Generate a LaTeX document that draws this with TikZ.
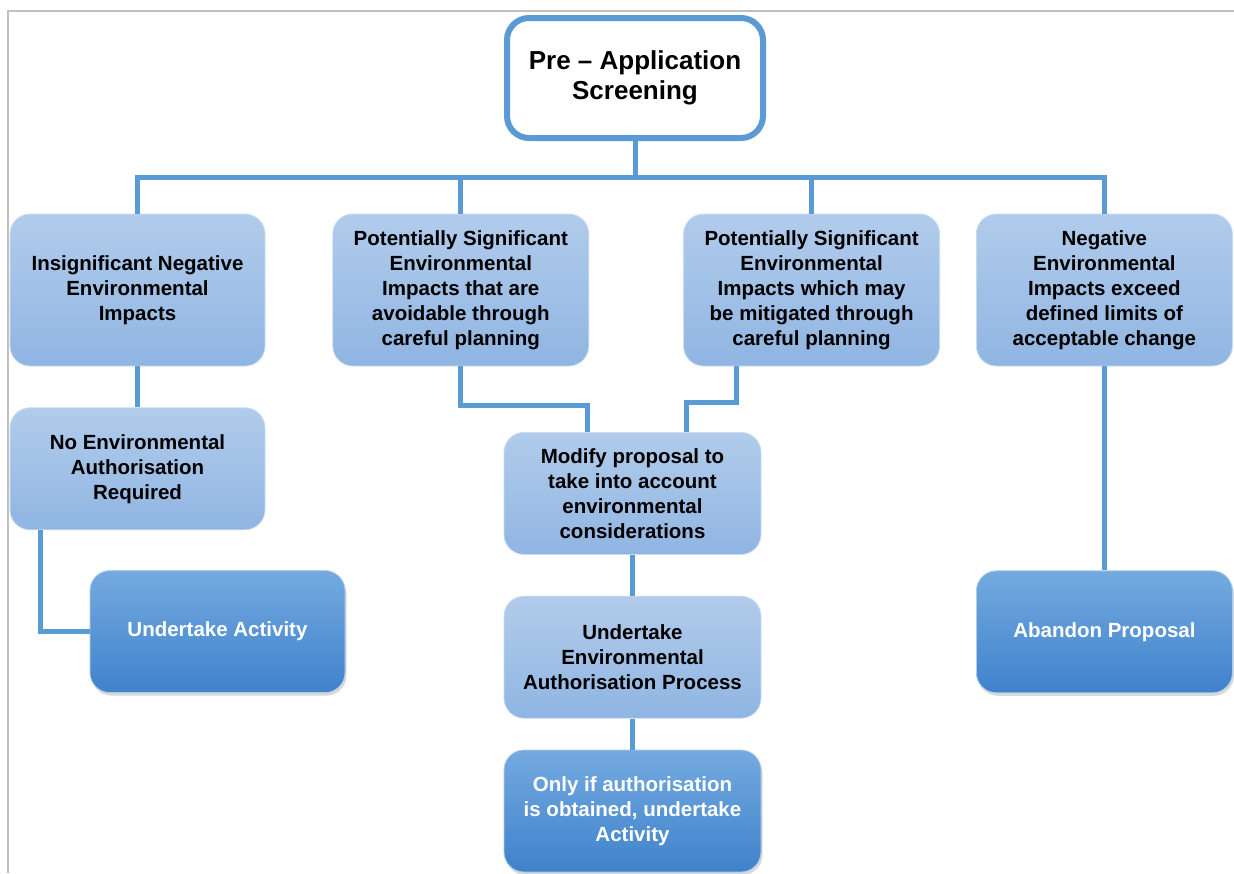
\documentclass[tikz,border=0pt]{standalone}
\usepackage{fontspec}
\setmainfont{Liberation Sans}
\usepackage{tikz}
\usetikzlibrary{positioning,shadows}

\definecolor{linkblue}{RGB}{91,155,213}
\definecolor{lighttop}{RGB}{177,204,235}
\definecolor{lightbot}{RGB}{144,181,226}
\definecolor{darktop}{RGB}{116,170,224}
\definecolor{darkbot}{RGB}{63,130,203}
\definecolor{framegray}{RGB}{192,192,192}

\begin{document}
\begin{tikzpicture}
    [x=1pt,y=1pt,
     txt/.style={font=\bfseries\fontsize{20.5}{25}\selectfont, align=center},
     lightbox/.style={txt,rectangle,rounded corners=20pt,draw=lighttop!70!white,line width=0.8pt,
       top color=lighttop,bottom color=lightbot,minimum width=255pt,minimum height=122pt,inner sep=2pt},
     darkbox/.style={txt,rectangle,rounded corners=20pt,draw=darktop!60!white,line width=0.8pt,text=white,
       top color=darktop,bottom color=darkbot,minimum width=255pt,minimum height=122pt,inner sep=2pt,
       drop shadow={shadow xshift=1.5pt,shadow yshift=-3pt,opacity=0.3}},
     topbox/.style={rectangle,rounded corners=22pt,draw=linkblue,line width=6pt,fill=white,
       minimum width=256pt,minimum height=120pt,font=\bfseries\fontsize{26}{30}\selectfont,align=center},
     link/.style={draw=linkblue,line width=5pt},
     frame/.style={draw=framegray,line width=1.5pt}]

    \useasboundingbox (0,0) rectangle (1234,-873);
    \draw[frame] (8,-873) |- (1234,-11);

    \node[topbox] (pre) at (635,-78) {Pre -- Application\\Screening};

    \node[lightbox,minimum height=152pt] (insig) at (137.5,-290) {Insignificant Negative\\Environmental\\Impacts};
    \node[lightbox,minimum height=152pt,minimum width=256pt] (avoid) [right=67pt of insig]
      {Potentially Significant\\Environmental\\Impacts that are\\avoidable through\\careful planning};
    \node[lightbox,minimum height=152pt,minimum width=256pt] (mitig) [right=94pt of avoid]
      {Potentially Significant\\Environmental\\Impacts which may\\be mitigated through\\careful planning};
    \node[lightbox,minimum height=152pt,minimum width=256pt] (exceed) [right=36pt of mitig]
      {Negative\\Environmental\\Impacts exceed\\defined limits of\\acceptable change};

    \node[lightbox] (noauth) [below=41pt of insig] {No Environmental\\Authorisation\\Required};
    \node[darkbox] (undertake) [below=40pt of noauth, xshift=80pt] {Undertake Activity};

    \node[lightbox,minimum width=257pt] (modify) [below=291pt of pre, xshift=-2.5pt]
      {Modify proposal to\\take into account\\environmental\\considerations};
    \node[lightbox,minimum width=257pt] (authproc) [below=41pt of modify]
      {Undertake\\Environmental\\Authorisation Process};
    \node[darkbox,minimum width=257pt] (onlyif) [below=31pt of authproc]
      {Only if authorisation\\is obtained, undertake\\Activity};

    \node[darkbox,minimum width=256pt] (abandon) [below=204pt of exceed] {Abandon Proposal};

    % tree connectors
    \coordinate (bus) at ([yshift=36pt]insig.north);
    \draw[link] (insig.north) -- (bus) -| (exceed.north);
    \draw[link] (pre.south) -- (pre.south |- bus);
    \draw[link] (avoid.north) -- (avoid.north |- bus);
    \draw[link] (mitig.north) -- (mitig.north |- bus);

    \draw[link] (insig.south) -- (noauth.north);
    \draw[link] ([xshift=-97pt]noauth.south) |- (undertake.west);

    \draw[link] (avoid.south) -- ++(0,-39) -| ([xshift=-45pt]modify.north);
    \draw[link] ([xshift=-75pt]mitig.south) -- ++(0,-36) -| ([xshift=54pt]modify.north);
    \draw[link] (modify.south) -- (authproc.north);
    \draw[link] (authproc.south) -- (onlyif.north);

    \draw[link] (exceed.south) -- (abandon.north);
\end{tikzpicture}
\end{document}
